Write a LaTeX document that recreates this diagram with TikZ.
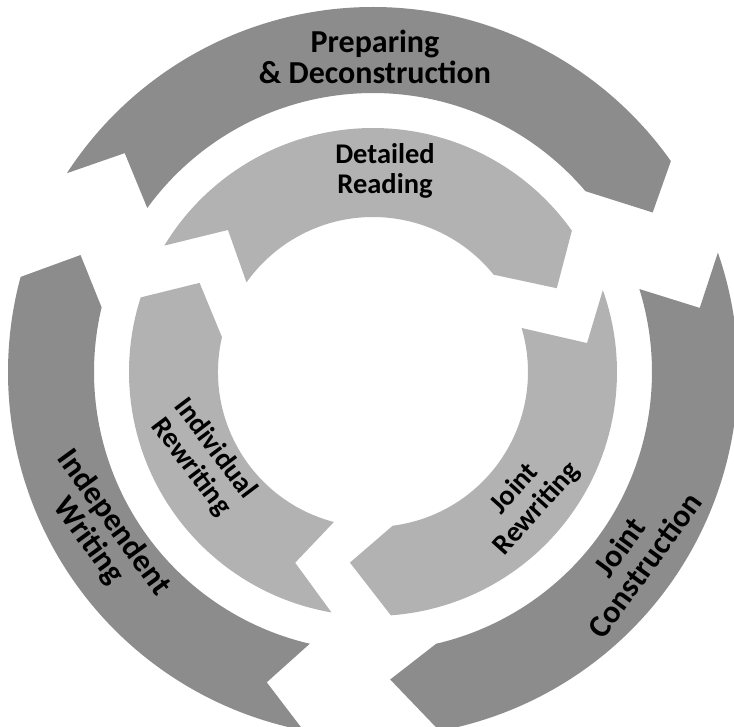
\documentclass[tikz,border=0pt]{standalone}
\usepackage{fontspec}
\setmainfont{Carlito}
\tikzset{
    outerArrow/.style={fill=black!45, draw=none},
    innerArrow/.style={fill=black!30, draw=none},
    outerLabel/.style={align=center, inner sep=0pt, font=\bfseries\fontsize{32}{31}\selectfont},
    innerLabel/.style={align=center, inner sep=0pt, font=\bfseries\fontsize{28.5}{30}\selectfont}
}

\begin{document}
\begin{tikzpicture}[x=1pt,y=1pt]
	\useasboundingbox (-373,-354) rectangle (361,372);
	\clip (-373,-354) rectangle (361,372);
	% outer cycle, radii 279 and 365
	\fill[outerArrow] (147:365) arc[start angle=147, end angle=35.3, radius=365] -- (29.7:322) -- (40.4:279) arc[start angle=40.4, end angle=144, radius=279] -- (138.6:331) -- cycle;
	\fill[outerArrow] (19.1:365) arc[start angle=19.1, end angle=-79.5, radius=365] -- (-86.8:308) -- (-76.9:279) arc[start angle=-76.9, end angle=17.3, radius=279] -- (11.1:333) -- cycle;
	\fill[outerArrow] (259:365) arc[start angle=259, end angle=164.9, radius=365] -- (158.2:315) -- (166.6:279) arc[start angle=166.6, end angle=256.9, radius=279] -- (251.1:328) -- cycle;
	% inner cycle, radii 155 and 244
	\fill[innerArrow] (148.8:244) arc[start angle=148.8, end angle=35.4, radius=244] -- (24.5:202) -- (38.9:155) arc[start angle=38.9, end angle=144.7, radius=155] -- (135.6:203) -- cycle;
	\fill[innerArrow] (19.6:244) arc[start angle=19.6, end angle=-85.8, radius=244] -- (-96.9:192) -- (-82.7:155) arc[start angle=-82.7, end angle=16.5, radius=155] -- (7.7:216) -- cycle;
	\fill[innerArrow] (260.2:244) arc[start angle=260.2, end angle=162.2, radius=244] -- (152.8:195) -- (167:155) arc[start angle=167, end angle=255.4, radius=155] -- (247.8:206) -- cycle;
	% stage names
	\node[outerLabel] (prep) at (2,315) {Preparing\\\& Deconstruction};
	\node[innerLabel] (detail) at (12,201) {Detailed\\Reading};
	\node[outerLabel, rotate=-54] (indep) at (-272,-160) {Independent\\Writing};
	\node[innerLabel, rotate=-53] (indiv) at (-170,-86) {Individual\\Rewriting};
	\node[outerLabel, rotate=54] (jointCon) at (259,-184) {Joint\\Construction};
	\node[innerLabel, rotate=48] (jointRe) at (153,-127) {Joint\\Rewriting};
\end{tikzpicture}
\end{document}
